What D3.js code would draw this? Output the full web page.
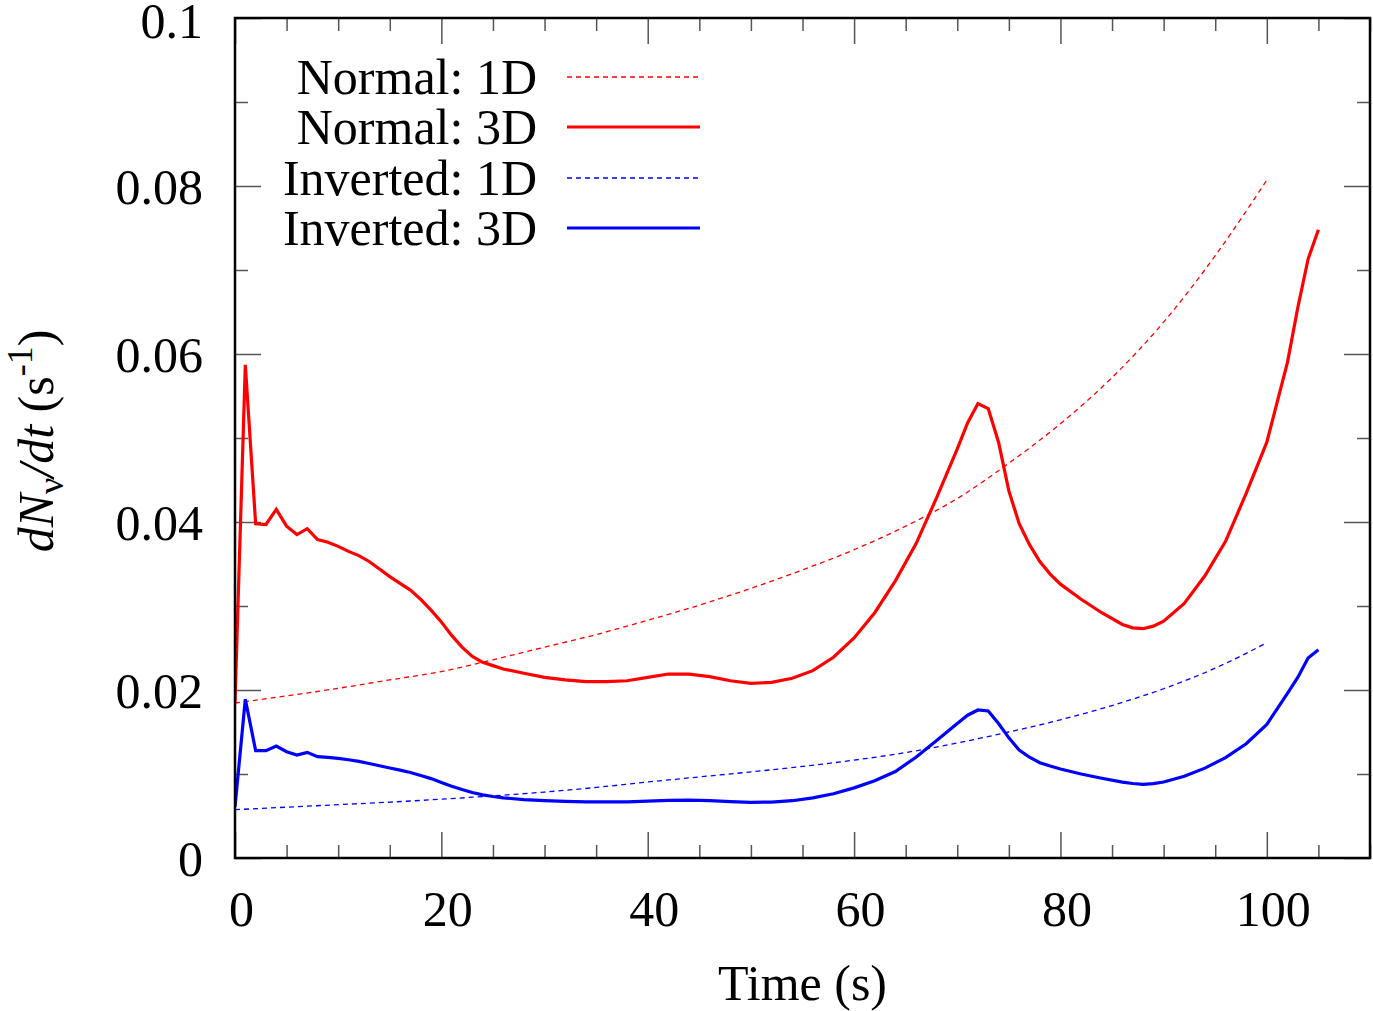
<!DOCTYPE html>
<html>
<head>
<meta charset="utf-8">
<script src="https://cdn.jsdelivr.net/npm/d3@7"></script>
<style>
  html, body { margin: 0; padding: 0; background: #fff; }
  svg { display: block; }
  text { font-family: "Liberation Serif", "Times New Roman", serif; fill: #000; }
</style>
</head>
<body>
<svg id="chart" width="1373" height="1011"></svg>
<script>
// ---------- data ----------
const time1D = [0, 5, 10, 15, 20, 25, 30, 35, 40, 45, 50, 55, 60, 65, 70, 75, 80, 85, 90, 95, 100];
const normal1D = [0.01845, 0.0193, 0.0202, 0.0212, 0.0222, 0.0236, 0.0251, 0.0266, 0.0283, 0.0301, 0.0321,
                  0.0343, 0.0367, 0.0395, 0.0428, 0.0470, 0.0517, 0.0572, 0.0638, 0.0717, 0.0807];
const inverted1D = [0.00575, 0.00605, 0.00635, 0.00665, 0.00700, 0.00740, 0.00785, 0.00840, 0.00905, 0.00965, 0.01025,
                    0.01090, 0.01165, 0.01255, 0.01370, 0.01500, 0.01645, 0.01815, 0.02015, 0.02260, 0.02563];

const time3D = [0, 1, 2, 3, 4, 5, 6, 7, 8, 9, 10, 11, 12, 13, 14, 15, 16, 17, 18, 19, 20, 21, 22, 23, 24, 25, 26,
                28, 30, 32, 34, 36, 38, 40, 42, 44, 46, 48, 50, 52, 54, 56, 58, 60, 62, 64, 66, 68, 70, 71, 72, 73,
                74, 75, 76, 77, 78, 79, 80, 82, 84, 86, 87, 88, 89, 90, 92, 94, 96, 98, 100, 102, 103, 104, 105];
const normal3D = [0.0185, 0.0587, 0.0398, 0.0397, 0.0415, 0.0395, 0.0385, 0.0392, 0.0379, 0.0376, 0.0371, 0.0365,
                  0.0360, 0.0353, 0.0344, 0.0335, 0.0327, 0.0319, 0.0308, 0.0295, 0.0281, 0.0265, 0.0251, 0.0240,
                  0.0233, 0.0229, 0.0225, 0.0220, 0.0215, 0.0212, 0.0210, 0.0210, 0.0211, 0.0215, 0.0219, 0.0219,
                  0.0216, 0.0211, 0.0208, 0.0209, 0.0214, 0.0223, 0.0239, 0.0262, 0.0292, 0.0330, 0.0374, 0.0429,
                  0.0487, 0.0518, 0.0541, 0.0535, 0.0495, 0.0437, 0.0398, 0.0373, 0.0353, 0.0338, 0.0326, 0.0308,
                  0.0292, 0.0278, 0.0274, 0.0273, 0.0276, 0.0282, 0.0303, 0.0336, 0.0377, 0.0434, 0.0495, 0.0590,
                  0.0655, 0.0713, 0.0748];
const inverted3D = [0.0061, 0.0189, 0.01278, 0.01278, 0.01333, 0.01266, 0.01226, 0.01258, 0.01206, 0.01198, 0.01185,
                    0.01170, 0.01150, 0.01125, 0.01098, 0.01072, 0.01046, 0.01018, 0.00982, 0.00945, 0.00900, 0.00855,
                    0.00815, 0.00780, 0.00752, 0.00732, 0.00716, 0.00696, 0.00683, 0.00673, 0.00668, 0.00667, 0.00668,
                    0.00676, 0.00686, 0.00689, 0.00682, 0.00670, 0.00662, 0.00666, 0.00682, 0.00715, 0.00765, 0.00835,
                    0.00920, 0.01030, 0.01200, 0.01400, 0.01600, 0.01700, 0.01762, 0.01750, 0.01600, 0.01430, 0.01285,
                    0.01200, 0.01135, 0.01095, 0.01060, 0.01000, 0.00950, 0.00903, 0.00887, 0.00877, 0.00885, 0.00905,
                    0.00972, 0.01070, 0.01195, 0.01360, 0.01590, 0.01960, 0.02150, 0.02380, 0.02480];

const xMajorTicks = [0, 20, 40, 60, 80, 100];
const xTickLabels = ["0", "20", "40", "60", "80", "100"];
const yMajorTicks = [0, 0.02, 0.04, 0.06, 0.08, 0.1];
const yTickLabels = ["0", "0.02", "0.04", "0.06", "0.08", "0.1"];
const legendLabels = ["Normal: 1D", "Normal: 3D", "Inverted: 1D", "Inverted: 3D"];

// ---------- layout ----------
const svg = d3.select("#chart");
const L = 235, R = 1370, T = 18, B = 858;
const x = d3.scaleLinear().domain([0, 110]).range([L, R]);
const y = d3.scaleLinear().domain([0, 0.1]).range([B, T]);
const FS = 50;

const xMinor = d3.range(0, 111, 5).filter(v => v % 20 !== 0);
const yMinor = d3.range(1, 10, 2).map(v => v / 100);

const tickColor = "#555";
function styleAxis(g) {
  g.select(".domain").remove();
  g.selectAll(".tick line").attr("stroke", tickColor).attr("stroke-width", 1.5);
}

// bottom axis (major with labels)
svg.append("g").attr("transform", `translate(0,${B})`)
  .call(d3.axisBottom(x).tickValues(xMajorTicks).tickSize(-26).tickFormat((d, i) => xTickLabels[i]))
  .call(styleAxis)
  .call(g => g.selectAll(".tick text")
    .attr("y", 68).attr("dy", 0).attr("dx", 6)
    .style("font-family", '"Liberation Serif", serif').style("font-size", FS + "px").attr("fill", "#000"));
svg.append("g").attr("transform", `translate(0,${B})`)
  .call(d3.axisBottom(x).tickValues(xMinor).tickSize(-13).tickFormat(""))
  .call(styleAxis);
// top mirror
svg.append("g").attr("transform", `translate(0,${T})`)
  .call(d3.axisTop(x).tickValues(xMajorTicks).tickSize(-26).tickFormat(""))
  .call(styleAxis);
svg.append("g").attr("transform", `translate(0,${T})`)
  .call(d3.axisTop(x).tickValues(xMinor).tickSize(-13).tickFormat(""))
  .call(styleAxis);
// left axis
svg.append("g").attr("transform", `translate(${L},0)`)
  .call(d3.axisLeft(y).tickValues(yMajorTicks).tickSize(-26).tickFormat((d, i) => yTickLabels[i]))
  .call(styleAxis)
  .call(g => g.selectAll(".tick text")
    .attr("x", -32).attr("dy", d => d === 0.1 ? 19 : 17)
    .style("font-family", '"Liberation Serif", serif').style("font-size", FS + "px").attr("fill", "#000"));
svg.append("g").attr("transform", `translate(${L},0)`)
  .call(d3.axisLeft(y).tickValues(yMinor).tickSize(-13).tickFormat(""))
  .call(styleAxis);
// right mirror
svg.append("g").attr("transform", `translate(${R},0)`)
  .call(d3.axisRight(y).tickValues(yMajorTicks).tickSize(-26).tickFormat(""))
  .call(styleAxis);
svg.append("g").attr("transform", `translate(${R},0)`)
  .call(d3.axisRight(y).tickValues(yMinor).tickSize(-13).tickFormat(""))
  .call(styleAxis);

// ---------- lines ----------
const line3D = d3.line().x(d => x(d[0])).y(d => y(d[1])).curve(d3.curveLinear);
const line1D = d3.line().x(d => x(d[0])).y(d => y(d[1])).curve(d3.curveMonotoneX);
svg.append("clipPath").attr("id", "plotclip")
  .append("rect").attr("x", L).attr("y", T).attr("width", R - L).attr("height", B - T);

const series = [
  { t: time1D, v: normal1D, color: "#ff0000", width: 1.3, dash: "5,4", gen: line1D },
  { t: time3D, v: normal3D, color: "#ff0000", width: 3.2, dash: null, gen: line3D },
  { t: time1D, v: inverted1D, color: "#0000ff", width: 1.3, dash: "5,4", gen: line1D },
  { t: time3D, v: inverted3D, color: "#0000ff", width: 3.2, dash: null, gen: line3D }
];
const plotG = svg.append("g").attr("clip-path", "url(#plotclip)");
series.forEach(s => {
  plotG.append("path")
    .datum(s.t.map((t, i) => [t, s.v[i]]))
    .attr("d", s.gen)
    .attr("fill", "none")
    .attr("stroke", s.color)
    .attr("stroke-width", s.width)
    .attr("stroke-dasharray", s.dash)
    .attr("stroke-linejoin", "miter");
});

// ---------- frame ----------
svg.append("rect").attr("x", L).attr("y", T).attr("width", R - L).attr("height", B - T)
  .attr("fill", "none").attr("stroke", "#000").attr("stroke-width", 2.5);

// ---------- legend ----------
const legendRowY = [77, 127, 178, 228];
const legend = svg.append("g");
series.forEach((s, i) => {
  legend.append("text").attr("x", 537).attr("y", legendRowY[i] + 17)
    .attr("text-anchor", "end").style("font-size", FS + "px").text(legendLabels[i]);
  legend.append("line").attr("x1", 567).attr("x2", 700)
    .attr("y1", legendRowY[i]).attr("y2", legendRowY[i])
    .attr("stroke", s.color).attr("stroke-width", s.width).attr("stroke-dasharray", s.dash);
});

// ---------- axis titles ----------
svg.append("text").attr("x", (L + R) / 2).attr("y", 1000).attr("text-anchor", "middle")
  .style("font-size", FS + "px").text("Time (s)");

const yl = svg.append("text").attr("transform", "translate(53,441) rotate(-90)")
  .attr("text-anchor", "middle").style("font-size", FS + "px");
yl.append("tspan").style("font-style", "italic").text("dN");
yl.append("tspan").attr("dy", 10).style("font-size", "36px").text("ν");
yl.append("tspan").attr("dy", -10).style("font-style", "italic").text("/dt");
yl.append("tspan").text(" (s");
yl.append("tspan").attr("dy", -21).style("font-size", "36px").text("-1");
yl.append("tspan").attr("dy", 21).text(")");
</script>
</body>
</html>
